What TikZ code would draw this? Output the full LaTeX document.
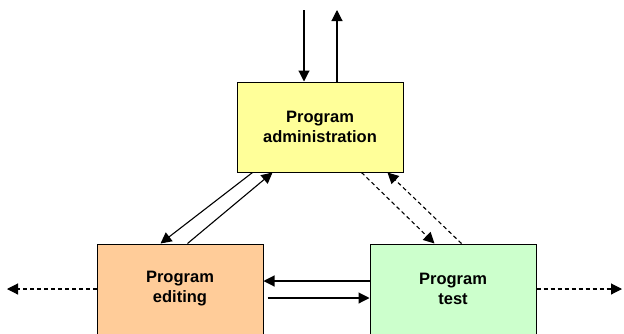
\documentclass[tikz,border=0pt]{standalone}
\usepackage{fontspec}
\setmainfont{Liberation Sans}
\usetikzlibrary{calc, arrows.meta}

\begin{document}
\begin{tikzpicture}[
    x=1pt, y=-1pt,
    % Styles
    unit/.style={draw, line width=1pt, minimum width=166pt, minimum height=90pt,
        align=center, font=\fontsize{16.5}{20}\selectfont\bfseries},
    arr/.style={-{Triangle[length=11pt, width=11pt]}, line width=1.1pt},
    darr/.style={arr, dash pattern=on 4pt off 3pt},
]
\useasboundingbox (0,0) rectangle (624,333);
\clip (0,0) rectangle (624,333);

% ===== Boxes =====
\node[unit, fill={rgb,255:red,255;green,255;blue,153}] (admin) at (320,127)
    {Program\\administration};
\node[unit, fill={rgb,255:red,255;green,204;blue,153}] (editing) at (180,289)
    {Program\\editing};
\node[unit, fill={rgb,255:red,204;green,255;blue,204}] (test) at (453,289)
    {Program\\test};

% --- Outside ends ---
\coordinate (inflow) at (304,10);
\coordinate (outflow) at (337,10);
\coordinate (leftend) at (7,289);
\coordinate (rightend) at (622,289);

% Top in / out
\draw[arr] (inflow) -- (inflow |- admin.north);
\draw[arr] (outflow |- admin.north) -- (outflow);

% Administration <-> editing
\draw[arr] ($(admin.south west)+(16,0)$) -- ($(editing.north west)+(64,0)$);
\draw[arr] ($(editing.north west)+(91,0)$) -- ($(admin.south west)+(36,0)$);

% Administration <-> test (dashed)
\draw[darr] ($(admin.south west)+(125,0)$) -- ($(test.north west)+(65,0)$);
\draw[darr] ($(test.north west)+(92,0)$) -- ($(admin.south west)+(151,0)$);

% Editing <-> test
\draw[arr] ($(test.west)+(0,-8)$) -- ($(editing.east)+(0,-8)$);
\draw[arr] ($(editing.east)+(4,9)$) -- ($(test.west)+(0,9)$);

% Side outputs
\draw[darr] (editing.west) -- (leftend);
\draw[darr] (test.east) -- (rightend);

\end{tikzpicture}
\end{document}
